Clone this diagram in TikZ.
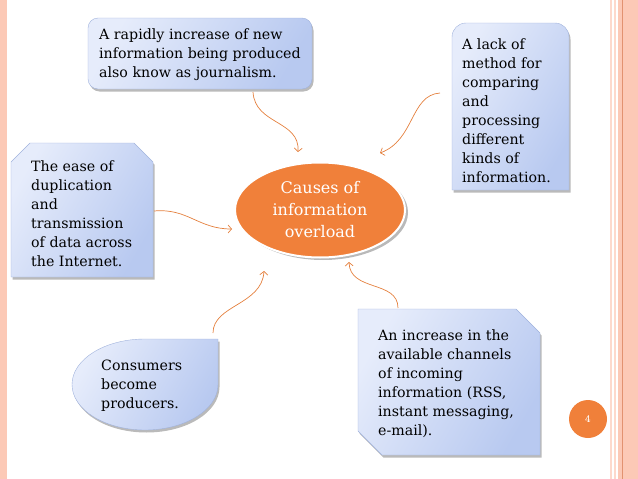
\documentclass[tikz,border=0pt]{standalone}
\usepackage{fontspec}
\setmainfont{DejaVu Serif}
\usetikzlibrary{arrows.meta, shapes.geometric, shadows, positioning}

\definecolor{boxlight}{RGB}{230,236,251}
\definecolor{boxdark}{RGB}{184,201,240}
\definecolor{boxedge}{RGB}{160,178,220}
\definecolor{causeorange}{RGB}{240,128,58}
\definecolor{arroworange}{RGB}{228,128,62}
\definecolor{stripe}{RGB}{252,201,182}
\definecolor{stripeline}{RGB}{226,146,112}

\tikzset{
  causebox/.style={left color=boxlight, right color=boxdark, shading angle=60, draw=boxedge, line width=0.4pt,
    drop shadow={shadow xshift=1.5pt, shadow yshift=-2.5pt, opacity=0.45, fill=black!60}},
  causetext/.style={align=left, inner sep=0pt, anchor=west, text=black,
    font=\fontsize{14.2}{19}\selectfont},
  feed/.style={draw=arroworange, line width=0.7pt, -{Straight Barb[length=3.5pt,width=8pt]}},
}

\begin{document}
\begin{tikzpicture}[x=1pt, y=-1pt]
    \useasboundingbox (0,0) rectangle (638,479);

    % Slide border
    \fill[stripe] (0,0) rectangle (7,479);
    \fill[stripe!70] (610,0) rectangle (612,479);
    \fill[stripe!70] (614,0) rectangle (616,479);
    \fill[stripe] (618,0) rectangle (638,479);
    \draw[stripeline, line width=1.2pt] (622.5,0) -- (622.5,479);

    % Boxes
    \path[causebox, rounded corners=10pt] (88,18) rectangle (312,89);
    \path[causebox] (452,190) -- (452,37) arc[start angle=180, end angle=270, radius=14]
        -- (555,23) arc[start angle=270, end angle=360, radius=14] -- (569,190) -- cycle;
    \path[causebox] (11,277) -- (11,162) -- (30,143) -- (134,143) -- (153,162) -- (153,277) -- cycle;
    \path[causebox] (218,339) -- (145,339)
        arc[start angle=270, end angle=0, x radius=73, y radius=45.5] -- cycle;
    \path[causebox] (358,309) -- (516,309) -- (540,333) -- (540,455) -- (382,455) -- (358,431) -- cycle;

    % Centre
    \node[ellipse, fill=causeorange, draw=white, line width=2pt, minimum width=170pt, minimum height=95pt,
        drop shadow={shadow xshift=3pt, shadow yshift=-2.5pt, opacity=0.5, fill=black!55},
        text=white, align=center, font=\fontsize{16}{22}\selectfont] (overload) at (320,210)
        {Causes of\\information\\overload};

    % Causes
    \node[causetext] (rapid) at (99,55) {A rapidly increase of new\\information being produced\\also know as journalism.};
    \node[causetext] (lack) at (462,111) {A lack of\\method for\\comparing\\and\\processing\\different\\kinds of\\information.};
    \node[causetext] (ease) at (31,214) {The ease of\\duplication\\and\\transmission\\of data across\\the Internet.};
    \node[causetext] (consumers) at (101,386) {Consumers\\become\\producers.};
    \node[causetext] (channels) at (378,384) {An increase in the\\available channels\\of incoming\\information (RSS,\\instant messaging,\\e-mail).};

    % Page number
    \node[circle, fill=causeorange, minimum size=38pt, inner sep=0pt, text=white,
        font=\fontsize{9}{9}\selectfont] (pagenum) at (588,419) {4};

    % Connector ends
    \coordinate (rapid-out) at (253,92);
    \coordinate (rapid-in) at (298,152);
    \coordinate (lack-out) at (440,93);
    \coordinate (lack-in) at (380,153);
    \coordinate (ease-out) at (154,211);
    \coordinate (ease-in) at (232,229);
    \coordinate (consumers-out) at (213,333);
    \coordinate (consumers-in) at (264,271);
    \coordinate (channels-out) at (398,308);
    \coordinate (channels-in) at (349,262);

    % Arrows
    \draw[feed] (rapid-out) .. controls (255,125) and (300,120) .. (rapid-in);
    \draw[feed] (lack-out) .. controls (410,95) and (415,140) .. (lack-in);
    \draw[feed] (ease-out) .. controls (188,208) and (198,229) .. (ease-in);
    \draw[feed] (consumers-out) .. controls (213,305) and (262,305) .. (consumers-in);
    \draw[feed] (channels-out) .. controls (398,280) and (350,292) .. (channels-in);
\end{tikzpicture}
\end{document}
